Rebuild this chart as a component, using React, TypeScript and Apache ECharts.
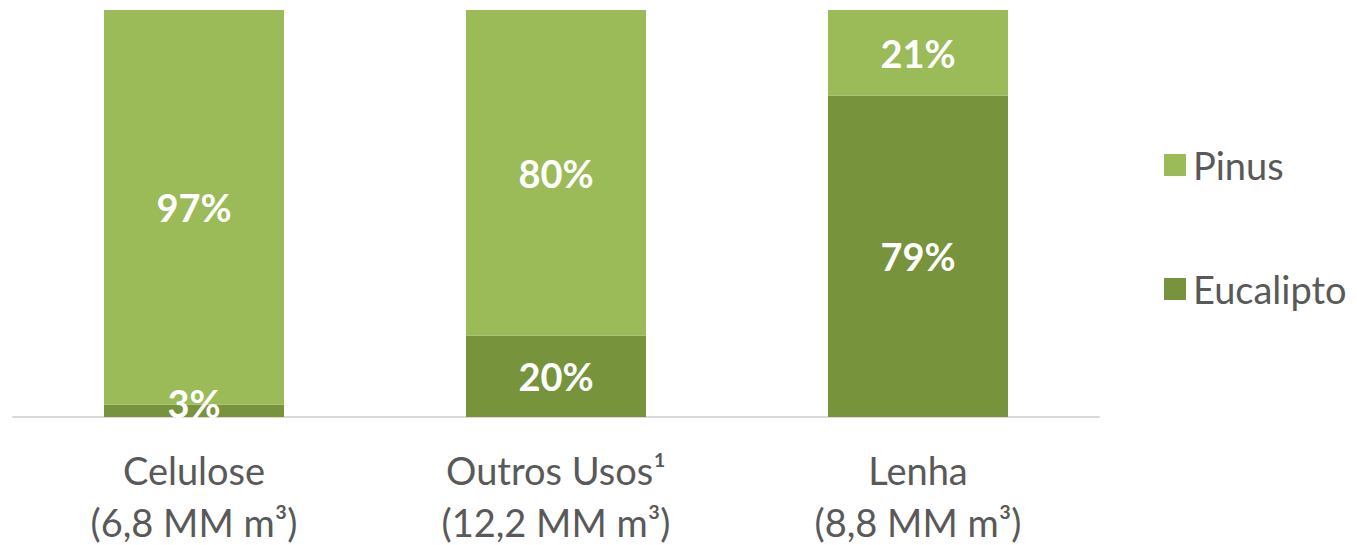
import React, { useEffect, useRef } from "react";
import * as echarts from "echarts";

const categories = ["Celulose\n(6,8 MM m³)", "Outros Usos¹\n(12,2 MM m³)", "Lenha\n(8,8 MM m³)"];
const eucalipto = [3, 20, 79];
const pinus = [97, 80, 21];

export default function App() {
  const ref = useRef<HTMLDivElement>(null);
  useEffect(() => {
    const chart = echarts.init(ref.current!, undefined, { renderer: "svg" });
    const font = "Lato, 'Noto Sans', sans-serif";
    const label = {
      show: true,
      position: "inside",
      color: "#ffffff",
      fontWeight: "bold",
      fontSize: 38,
      fontFamily: font,
      formatter: (p: any) => p.value + "%",
    };
    chart.setOption({
      animation: false,
      grid: { left: 13, right: 258, top: 10, bottom: 128, containLabel: false, outerBoundsMode: "none" },
      legend: {
        data: ["Pinus", "Eucalipto"],
        orient: "vertical",
        left: 1159,
        top: 141,
        itemWidth: 22,
        itemHeight: 22,
        itemGap: 86,
        icon: "rect",
        textStyle: { color: "#595959", fontSize: 38, fontFamily: font, padding: [0, 0, 0, 2] },
      },
      xAxis: {
        type: "category",
        data: categories,
        axisLine: { show: true, lineStyle: { color: "#D9D9D9", width: 2 } },
        axisTick: { show: false },
        axisLabel: { color: "#595959", fontSize: 38, fontFamily: font, lineHeight: 52, margin: 27 },
      },
      yAxis: { type: "value", min: 0, max: 100, show: false, splitLine: { show: false } },
      series: [
        {
          name: "Eucalipto",
          type: "bar",
          stack: "t",
          barWidth: 180,
          data: eucalipto.map((v, i) => (i === 0 ? { value: v, label: { offset: [0, -8] } } : v)),
          itemStyle: { color: "#77933C" },
          label,
        },
        {
          name: "Pinus",
          type: "bar",
          stack: "t",
          barWidth: 180,
          data: pinus,
          itemStyle: { color: "#9BBB59" },
          label,
        },
      ],
    });
    return () => chart.dispose();
  }, []);
  return <div ref={ref} style={{ position: "absolute", left: 0, top: 0, width: 1357, height: 545 }} />;
}
